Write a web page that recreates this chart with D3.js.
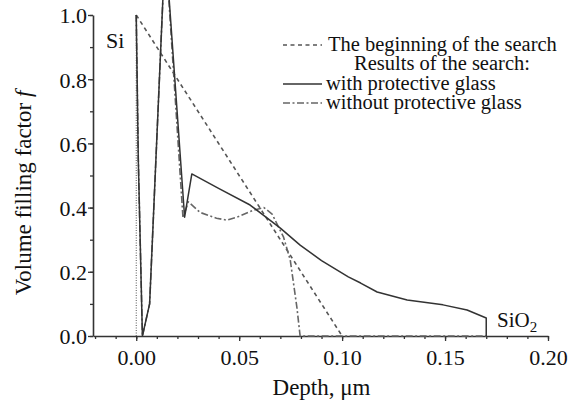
<!DOCTYPE html>
<html>
<head>
<meta charset="utf-8">
<script src="https://cdn.jsdelivr.net/npm/d3@7"></script>
<style>
    body { margin: 0; background: #fff; }
    svg { display: block; font-family: "Liberation Serif", "Times New Roman", serif; }
</style>
</head>
<body>
<svg id="chart" width="579" height="403"></svg>
<script>
// depth in um, f = volume filling factor
const beginDepth = [0.0, 0.1];
const beginF = [1.0, 0.0];

const glassDepth = [0.0, 0.001, 0.003, 0.0065, 0.0141, 0.0235, 0.027, 0.040, 0.0553, 0.070, 0.0796, 0.090, 0.103, 0.109, 0.117, 0.1316, 0.149, 0.1607, 0.170, 0.170];
const glassF = [1.0, 0.55, 0.0, 0.10, 1.22, 0.37, 0.505, 0.46, 0.408, 0.336, 0.283, 0.235, 0.184, 0.165, 0.137, 0.112, 0.097, 0.081, 0.056, 0.0];

const noGlassDepth = [0.0, 0.001, 0.003, 0.0065, 0.0141, 0.0227, 0.0253, 0.031, 0.039, 0.044, 0.0497, 0.057, 0.062, 0.066, 0.0715, 0.0748, 0.078, 0.0796, 0.170];
const noGlassF = [1.0, 0.55, 0.0, 0.10, 1.22, 0.368, 0.418, 0.385, 0.367, 0.361, 0.372, 0.392, 0.40, 0.38, 0.309, 0.237, 0.091, 0.0, 0.0];

const xMajor = [0.0, 0.05, 0.10, 0.15, 0.20];
const xMinor = d3.range(-0.02, 0.2001, 0.01);
const yMajor = [0.0, 0.2, 0.4, 0.6, 0.8, 1.0];
const yMinor = d3.range(0, 1.001, 0.1);

const legendLabels = ["The beginning of the search", "Results of the search:", "with protective glass", "without protective glass"];

const svg = d3.select('#chart');

const x = d3.scaleLinear().domain([-0.021, 0.2]).range([93, 548]);
const y = d3.scaleLinear().domain([0, 1]).range([336, 15]);

const axisColor = "#333";
const textColor = "#111";

// minor ticks first, then the major axes on top
svg.append("g")
    .attr("transform", `translate(0,${y(0)})`)
    .call(d3.axisBottom(x).tickValues(xMinor).tickSize(3).tickSizeOuter(0).tickFormat(""))
    .call(g => g.select(".domain").remove());

svg.append("g")
    .attr("transform", `translate(${x.range()[0]},0)`)
    .call(d3.axisLeft(y).tickValues(yMinor).tickSize(3).tickSizeOuter(0).tickFormat(""))
    .call(g => g.select(".domain").remove());

const xAxis = svg.append("g")
    .attr("transform", `translate(0,${y(0)})`)
    .call(d3.axisBottom(x).tickValues(xMajor).tickSize(5).tickSizeOuter(0).tickPadding(4).tickFormat(d3.format(".2f")));

const yAxis = svg.append("g")
    .attr("transform", `translate(${x.range()[0]},0)`)
    .call(d3.axisLeft(y).tickValues(yMajor).tickSize(5).tickSizeOuter(0).tickPadding(1).tickFormat(d3.format(".1f")));

svg.selectAll(".tick line").attr("stroke", axisColor).attr("stroke-width", 1.3);
svg.selectAll(".domain").attr("stroke", axisColor).attr("stroke-width", 1.6);
svg.selectAll(".tick text")
    .attr("font-family", "Liberation Serif, Times New Roman, serif")
    .attr("font-size", 22)
    .attr("fill", textColor);
xAxis.selectAll(".tick text").attr("dy", "0.9em");
yAxis.selectAll(".tick text").attr("dy", "0.36em");

// boundary at depth 0
svg.append("line")
    .attr("x1", x(0)).attr("x2", x(0))
    .attr("y1", y(0)).attr("y2", y(1))
    .attr("stroke", "#555")
    .attr("stroke-width", 1)
    .attr("stroke-dasharray", "1,1.5");

const line = d3.line().x(d => x(d[0])).y(d => y(d[1]));

const series = [
    { depth: beginDepth, f: beginF, color: "#555", width: 1.6, dash: "4,3.5" },
    { depth: noGlassDepth, f: noGlassF, color: "#666", width: 1.6, dash: "7,2.5,2,2.5" },
    { depth: glassDepth, f: glassF, color: "#333", width: 1.5, dash: null }
];

svg.append("g").selectAll("path")
    .data(series)
    .join("path")
    .attr("d", s => line(d3.zip(s.depth, s.f)))
    .attr("fill", "none")
    .attr("stroke", s => s.color)
    .attr("stroke-width", s => s.width)
    .attr("stroke-linejoin", "round")
    .attr("stroke-dasharray", s => s.dash);

// legend
const legend = svg.append("g").attr("font-size", 20.5).attr("fill", textColor);
const legendRows = [
    { label: legendLabels[0], y: 51, x: 328, anchor: "start", style: series[0] },
    { label: legendLabels[1], y: 70, x: 442, anchor: "middle", style: null },
    { label: legendLabels[2], y: 90, x: 326, anchor: "start", style: series[2] },
    { label: legendLabels[3], y: 109, x: 326, anchor: "start", style: series[1] }
];
legendRows.forEach(r => {
    legend.append("text").attr("x", r.x).attr("y", r.y).attr("text-anchor", r.anchor).text(r.label);
    if (r.style) {
        legend.append("line")
            .attr("x1", 283).attr("x2", 322)
            .attr("y1", r.y - 6).attr("y2", r.y - 6)
            .attr("stroke", r.style.color)
            .attr("stroke-width", r.style.width)
            .attr("stroke-dasharray", r.style.dash);
    }
});

// material labels
svg.append("text").attr("x", 106).attr("y", 48).attr("font-size", 22).attr("fill", textColor).text("Si");
const sio2 = svg.append("text").attr("x", 497).attr("y", 327).attr("font-size", 21).attr("fill", textColor);
sio2.append("tspan").text("SiO");
sio2.append("tspan").attr("font-size", 15).attr("dy", 5).text("2");

// axis titles
svg.append("text")
    .attr("x", x(0.09)).attr("y", 395)
    .attr("text-anchor", "middle")
    .attr("font-size", 23)
    .attr("fill", textColor)
    .text("Depth, μm");

const yTitle = svg.append("text")
    .attr("transform", `translate(31,193) rotate(-90)`)
    .attr("text-anchor", "middle")
    .attr("font-size", 23)
    .attr("fill", textColor);
yTitle.append("tspan").text("Volume filling factor ");
yTitle.append("tspan").attr("font-style", "italic").text("f");
</script>
</body>
</html>
